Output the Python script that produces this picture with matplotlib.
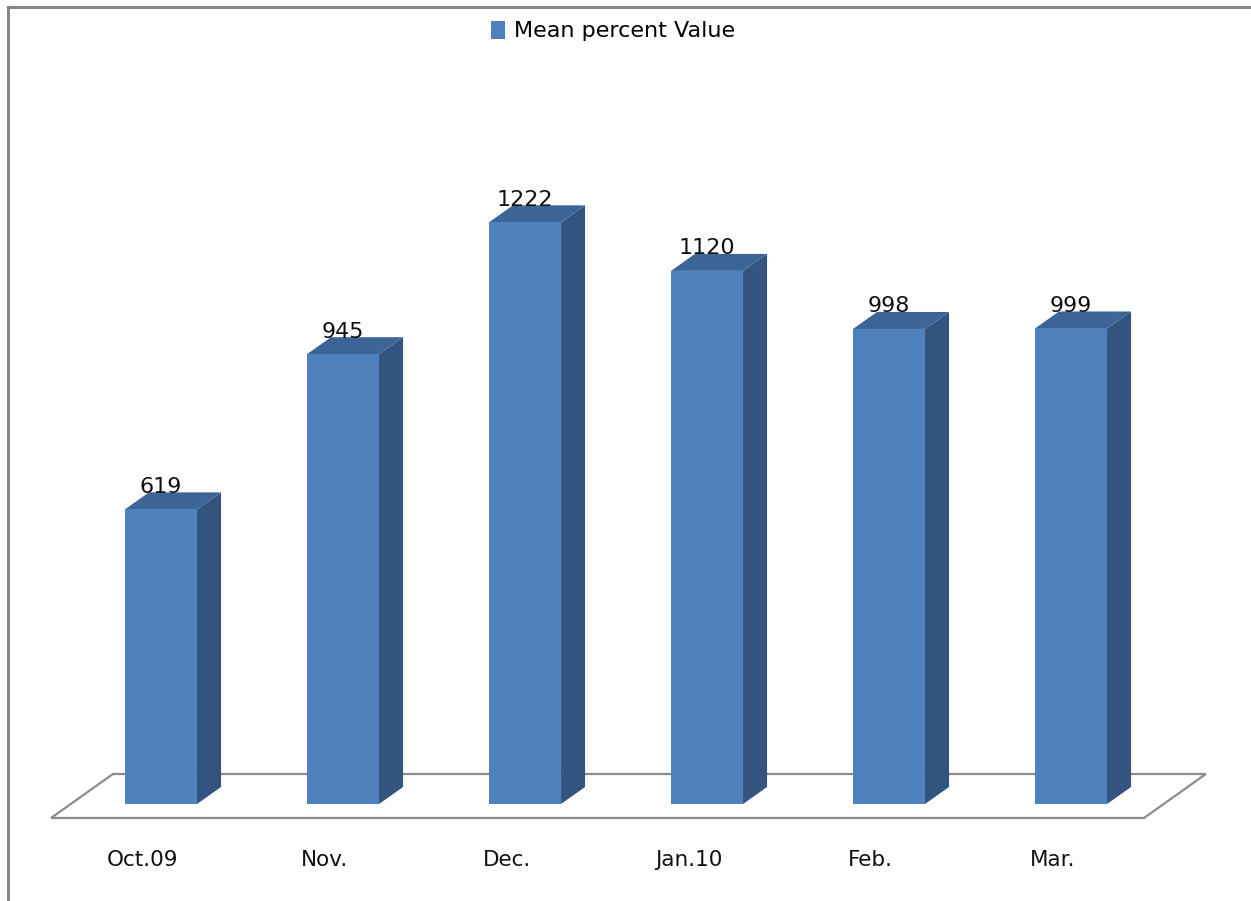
import numpy as np
import matplotlib
matplotlib.use("Agg")
import matplotlib.pyplot as plt
from matplotlib.patches import Polygon, Patch
from matplotlib.lines import Line2D

months = ["Oct.09", "Nov.", "Dec.", "Jan.10", "Feb.", "Mar."]
values = [619, 945, 1222, 1120, 998, 999]
series_name = "Mean percent Value"

FRONT = "#4F81BD"; TOP = "#3C6496"; SIDE = "#32547F"; EDGE = "#8C8C8C"

fig = plt.figure(figsize=(12.51, 9.01), dpi=100)
ax = fig.add_axes([0, 0, 1, 1])
ax.set_xlim(-0.8846, 5.989)
ax.set_ylim(-203.8, 1689.1)
ax.axis("off")

# fake 3D: depth offset in data units
w = 0.396; dx = 0.132; dy = 35.7

# floor
fl_x0, fl_x1, fl_y = -0.604, 5.401, -29.4
fdx, fdy = 0.34, 92.4
ax.add_patch(Polygon([(fl_x0, fl_y), (fl_x1, fl_y), (fl_x1 + fdx, fl_y + fdy), (fl_x0 + fdx, fl_y + fdy)],
                     closed=True, facecolor="white", edgecolor=EDGE, lw=1.6, zorder=1))

for i, v in enumerate(values):
    x0, x1 = i - w / 2, i + w / 2
    ax.add_patch(Polygon([(x1, 0), (x1 + dx, dy), (x1 + dx, v + dy), (x1, v)], closed=True,
                         facecolor=SIDE, edgecolor="none", zorder=2))
    ax.add_patch(Polygon([(x0, v), (x1, v), (x1 + dx, v + dy), (x0 + dx, v + dy)], closed=True,
                         facecolor=TOP, edgecolor="none", zorder=2))
    ax.bar(i, v, width=w, color=FRONT, edgecolor="none", zorder=3)
    ax.text(i, v + dy - 1, str(v), ha="center", va="baseline", fontsize=16, color="#111111", zorder=4)
    ax.text(i - 0.1, -118, months[i], ha="center", va="center", fontsize=15.5, color="#111111")

leg = ax.legend(handles=[Patch(facecolor=FRONT, edgecolor="none", label=series_name)],
                loc="upper center", bbox_to_anchor=(0.49, 0.999), frameon=False, fontsize=16,
                handlelength=0.6, handleheight=0.85, handletextpad=0.4)

# chart border (left and top only)
fig.add_artist(Line2D([0.0065, 0.0065], [0, 0.9925], color="#888888", lw=2.2))
fig.add_artist(Line2D([0.0065, 1.0], [0.9925, 0.9925], color="#888888", lw=2.2))

fig.savefig("out.png", dpi=100)
